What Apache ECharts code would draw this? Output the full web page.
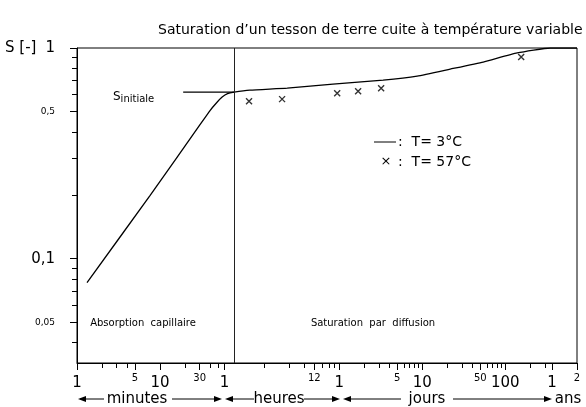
<!DOCTYPE html>
<html>
<head>
<meta charset="utf-8">
<script src="https://cdn.jsdelivr.net/npm/echarts@6/dist/echarts.min.js"></script>
<style>
  html, body { margin: 0; padding: 0; background: #fff; }
  #chart { width: 586px; height: 407px; }
</style>
</head>
<body>
<div id="chart"></div>
<script>
// ---------------------------------------------------
// Data (time in minutes, S = saturation [-])
// ---------------------------------------------------
const curveT = [1.32, 7.6, 30, 40, 48, 56, 65, 78, 121, 340, 1210, 4860, 12500, 31200, 78000, 200000, 500000, 1051200];
const curveS = [0.077, 0.2, 0.43, 0.505, 0.55, 0.585, 0.607, 0.617, 0.631, 0.645, 0.674, 0.704, 0.736, 0.794, 0.858, 0.947, 1.0, 1.0];

const sInitT = [19, 78];
const sInitS = [0.617, 0.617];

const hotT = [118, 295, 1360, 2430, 4600, 223500];
const hotS = [0.559, 0.572, 0.61, 0.624, 0.645, 0.906];

const separatorT = 78;

const xLabelValues = [1, 5, 10, 30, 60, 720, 1440, 7200, 14400, 72000, 144000, 525600, 1051200];
const xLabelTexts  = ["1", "5", "10", "30", "1", "12", "1", "5", "10", "50", "100", "1", "2"];
const xLabelSmall  = [false, true, false, true, false, true, false, true, false, true, false, false, true];
const xMinorTicks  = [2, 3, 4, 20, 40, 50, 180, 360, 540, 900, 1080, 1260,
  2880, 4320, 5760, 8640, 10080, 11520, 12960,
  28800, 43200, 57600, 86400, 100800, 115200, 129600, 288000, 432000];

const yLabelValues = [0.05, 0.1, 0.5, 1];
const yLabelTexts  = ["0,05", "0,1", "0,5", "1"];
const yLabelSmall  = [true, false, true, false];
const yMinorTicks  = [0.04, 0.06, 0.07, 0.08, 0.09, 0.2, 0.3, 0.4, 0.6, 0.7, 0.8, 0.9];

// ---------------------------------------------------
// Helpers
// ---------------------------------------------------
const FONT = "DejaVu Sans";
const X_MIN = 1, X_MAX = 1051200;
const Y_MIN = 0.032, Y_MAX = 1;

function findIdx(values, v) {
  return values.findIndex(x => Math.abs(x - v) / x < 1e-3);
}

function tickFormatter(values, texts, small) {
  return v => {
    const i = findIdx(values, v);
    if (i < 0) return "";
    return small[i] ? `{s|${texts[i]}}` : `{b|${texts[i]}}`;
  };
}

function arrowHead(x, y, dir) {
  // dir = -1 points left, 1 points right
  return {
    type: "polygon",
    shape: { points: [[x, y], [x - dir * 8, y - 3], [x - dir * 8, y + 3]] },
    style: { fill: "#000" }
  };
}

function hLine(x1, x2, y) {
  return {
    type: "line",
    shape: { x1, y1: y, x2, y2: y },
    style: { stroke: "#000", lineWidth: 1 }
  };
}

function text(x, y, str, size, align) {
  return {
    type: "text",
    x, y,
    style: {
      text: str, fontFamily: FONT, fontSize: size, fill: "#000",
      align: align || "left", verticalAlign: "middle"
    }
  };
}

const ARROW_Y = 399;

// ---------------------------------------------------
// Chart
// ---------------------------------------------------
const chart = echarts.init(document.getElementById("chart"));

const minorAxisCommon = {
  axisLine: { show: false },
  axisLabel: { show: false },
  splitLine: { show: false },
  axisTick: { show: true, length: 5, lineStyle: { color: "#000", width: 1 } }
};

chart.setOption({
  animation: false,
  backgroundColor: "#fff",
  textStyle: { fontFamily: FONT },
  title: {
    text: "Saturation d\u2019un tesson de terre cuite \u00e0 temp\u00e9rature variable",
    left: 153,
    top: 18,
    textStyle: { fontFamily: FONT, fontSize: 14, fontWeight: "normal", color: "#000" }
  },
  grid: {
    left: 77, right: 9, top: 48, bottom: 44,
    show: true, borderColor: "#000", borderWidth: 1
  },
  xAxis: [
    {
      type: "log", min: X_MIN, max: X_MAX, position: "bottom",
      axisLine: { show: true, lineStyle: { color: "#000", width: 1 } },
      splitLine: { show: false },
      axisTick: { show: true, length: 7, customValues: xLabelValues, lineStyle: { color: "#000" } },
      axisLabel: {
        customValues: xLabelValues,
        margin: 10,
        formatter: tickFormatter(xLabelValues, xLabelTexts, xLabelSmall),
        rich: {
          b: { fontFamily: FONT, fontSize: 15, color: "#000", padding: [3, 0, 0, 0] },
          s: { fontFamily: FONT, fontSize: 10, color: "#000" }
        }
      }
    },
    Object.assign({
      type: "log", min: X_MIN, max: X_MAX, position: "bottom",
    }, minorAxisCommon, {
      axisTick: Object.assign({}, minorAxisCommon.axisTick, { customValues: xMinorTicks })
    })
  ],
  yAxis: [
    {
      type: "log", min: Y_MIN, max: Y_MAX, position: "left",
      axisLine: { show: true, lineStyle: { color: "#000", width: 1 } },
      splitLine: { show: false },
      axisTick: { show: true, length: 7, customValues: yLabelValues, lineStyle: { color: "#000" } },
      axisLabel: {
        customValues: yLabelValues,
        margin: 22,
        formatter: tickFormatter(yLabelValues, yLabelTexts, yLabelSmall),
        rich: {
          b: { fontFamily: FONT, fontSize: 15, color: "#000" },
          s: { fontFamily: FONT, fontSize: 9, color: "#000" }
        }
      }
    },
    Object.assign({
      type: "log", min: Y_MIN, max: Y_MAX, position: "left",
    }, minorAxisCommon, {
      axisTick: Object.assign({}, minorAxisCommon.axisTick, { customValues: yMinorTicks })
    })
  ],
  series: [
    {
      name: "T= 3\u00b0C",
      type: "line",
      data: curveT.map((t, i) => [t, curveS[i]]),
      showSymbol: false,
      smooth: 0.15,
      lineStyle: { color: "#000", width: 1.3 },
      markLine: {
        silent: true,
        symbol: "none",
        label: { show: false },
        lineStyle: { color: "#222", width: 1, type: "solid" },
        data: [{ xAxis: separatorT }]
      }
    },
    {
      name: "S initiale",
      type: "line",
      data: sInitT.map((t, i) => [t, sInitS[i]]),
      showSymbol: false,
      lineStyle: { color: "#000", width: 1.2 }
    },
    {
      name: "T= 57\u00b0C",
      type: "scatter",
      data: hotT.map((t, i) => [t, hotS[i]]),
      symbol: "path://M0,0L10,10M10,0L0,10",
      symbolSize: 6,
      itemStyle: { color: "none", borderColor: "#000", borderWidth: 1.4 }
    }
  ],
  graphic: [
    text(5, 48, "S [-]", 15),
    {
      type: "text", x: 113, y: 97,
      style: {
        text: "{a|S}{b|initiale}", fontFamily: FONT, verticalAlign: "middle",
        rich: {
          a: { fontFamily: FONT, fontSize: 12, fill: "#000" },
          b: { fontFamily: FONT, fontSize: 10, fill: "#000", padding: [5, 0, 0, 0] }
        }
      }
    },
    text(143, 323, "Absorption  capillaire", 10, "center"),
    text(373, 323, "Saturation  par  diffusion", 10, "center"),

    // legend
    hLine(374, 396, 142),
    text(398, 142, ":  T= 3\u00b0C", 14),
    text(386, 162, "\u00d7", 13, "center"),
    text(398, 162, ":  T= 57\u00b0C", 14),

    // units row
    arrowHead(78, ARROW_Y, -1), hLine(80, 104, ARROW_Y),
    text(137, ARROW_Y, "minutes", 15, "center"),
    hLine(172, 218, ARROW_Y), arrowHead(222, ARROW_Y, 1),
    arrowHead(225, ARROW_Y, -1), hLine(228, 254, ARROW_Y),
    text(279, ARROW_Y, "heures", 15, "center"),
    hLine(304, 334, ARROW_Y), arrowHead(340, ARROW_Y, 1),
    arrowHead(343, ARROW_Y, -1), hLine(346, 401, ARROW_Y),
    text(427, ARROW_Y, "jours", 15, "center"),
    hLine(453, 546, ARROW_Y), arrowHead(552, ARROW_Y, 1),
    text(568, ARROW_Y, "ans", 15, "center")
  ]
});
</script>
</body>
</html>
